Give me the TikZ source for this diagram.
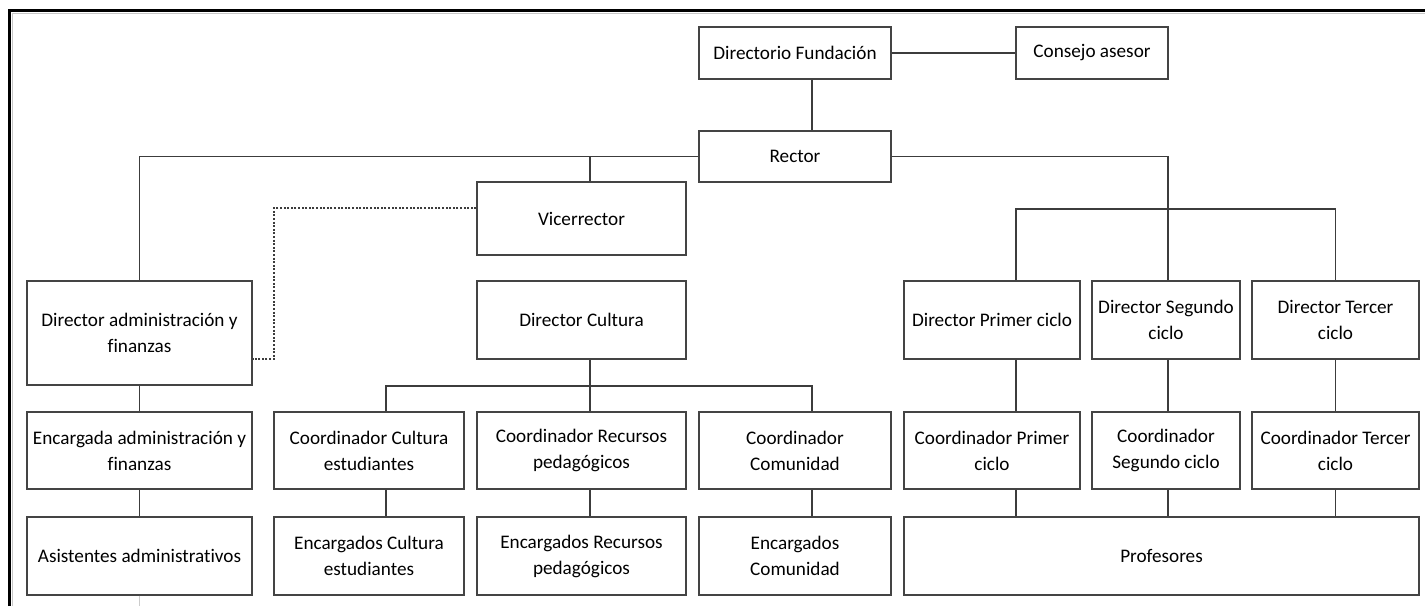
\documentclass[tikz,border=0pt]{standalone}
\usepackage{fontspec}
\setmainfont[Ligatures=NoCommon]{Carlito}
\definecolor{boxline}{HTML}{444444}
\definecolor{linkline}{HTML}{3C3C3C}

\begin{document}
\begin{tikzpicture}[x=1pt, y=-1pt,
  every node/.style = {shape=rectangle, draw=boxline, line width=1.3pt,
    align=center, inner sep=0pt, text=black,
    font=\fontsize{19.2}{26}\selectfont},
  box/.style 2 args = {minimum width=#1, minimum height=#2},
  link/.style = {draw=linkline, line width=1.2pt},
  dotlink/.style = {link, dash pattern=on 2pt off 1.6pt}]
  \useasboundingbox (0,0) rectangle (1425,606);
  % page edge
  \draw[line width=2.4pt] (9.5,606) -- (9.5,10.5) -- (1425,10.5);
  \draw[black!22, line width=0.8pt] (12,606) -- (12,13) -- (1425,13);

  % top
  \node[box={192}{52}] (dirf) at (795,53) {Directorio Fundación};
  \node[box={152}{52}] (cons) at (1092,53) {Consejo asesor};
  \node[box={192}{51}] (rect) at (795,156.5) {Rector};
  \node[box={209}{73}] (vice) at (581.5,218.5) {Vicerrector};

  % directors
  \node[box={225}{104}] (dadm) at (139.5,333) {Director administración y\\finanzas};
  \node[box={209}{78}] (dcul) at (581.5,320) {Director Cultura};
  \node[box={176}{78}] (dpri) at (992,320) {Director Primer ciclo};
  \node[box={148}{78}] (dseg) at (1166,320) {Director Segundo\\ciclo};
  \node[box={167}{78}] (dter) at (1335.5,320) {Director Tercer\\ciclo};

  % coordinators
  \node[box={225}{77}] (eadm) at (139.5,450.5) {Encargada administración y\\finanzas};
  \node[box={190}{77}] (ccul) at (369,450.5) {Coordinador Cultura\\estudiantes};
  \node[box={209}{77}] (crec) at (581.5,450.5) {Coordinador Recursos\\pedagógicos};
  \node[box={192}{77}] (ccom) at (795,450.5) {Coordinador\\Comunidad};
  \node[box={176}{77}] (cpri) at (992,450.5) {Coordinador Primer\\ciclo};
  \node[box={148}{77}] (cseg) at (1166,450.5) {Coordinador\\Segundo ciclo};
  \node[box={167}{77}] (cter) at (1335.5,450.5) {Coordinador Tercer\\ciclo};

  % staff
  \node[box={225}{78}] (asis) at (139.5,556) {Asistentes administrativos};
  \node[box={190}{78}] (ecul) at (369,556) {Encargados Cultura\\estudiantes};
  \node[box={209}{78}] (erec) at (581.5,556) {Encargados Recursos\\pedagógicos};
  \node[box={192}{78}] (ecom) at (795,556) {Encargados\\Comunidad};
  \node[box={515}{78}] (prof) at (1161.5,556) {Profesores};

  \coordinate (cbar) at (1168,209);
  \coordinate (cbus) at (590,386);
  \coordinate (dotbend) at (274,208);
  \coordinate (pageend) at (139.5,606);

  \draw[link] (dirf) -- (cons);
  \draw[link] ([xshift=17]dirf.south) -- ([xshift=17]rect.north);
  \draw[link] (rect.west) -| (dadm.north);
  \draw[link] ([xshift=8.5]vice.north) |- (rect.west);
  \draw[link] (rect.east) -| ([xshift=2]dseg.north);
  \draw[link] ([xshift=24]dpri.north) |- (cbar) -| (dter.north);
  \draw[dotlink] (vice.west |- dotbend) -- (dotbend) |- ([yshift=-26]dadm.east);
  \draw[link] ([xshift=8.5]dcul.south) -- ([xshift=8.5]crec.north);
  \draw[link] ([xshift=17]ccul.north) |- (cbus) -| ([xshift=17]ccom.north);
  \draw[link] (dadm) -- (eadm);
  \draw[link] (eadm) -- (asis);
  \draw[black!20, line width=1pt] (asis) -- (pageend);
  \draw[link] ([xshift=17]ccul.south) -- ([xshift=17]ecul.north);
  \draw[link] ([xshift=8.5]crec.south) -- ([xshift=8.5]erec.north);
  \draw[link] ([xshift=17]ccom.south) -- ([xshift=17]ecom.north);
  \foreach \up/\dn/\s in {dpri/cpri/24, dseg/cseg/2, dter/cter/0} {
    \draw[link] ([xshift=\s]\up.south) -- ([xshift=\s]\dn.north);
    \draw[link] ([xshift=\s]\dn.south) -- ([xshift=\s]\dn.south |- prof.north);
  }
\end{tikzpicture}
\end{document}
